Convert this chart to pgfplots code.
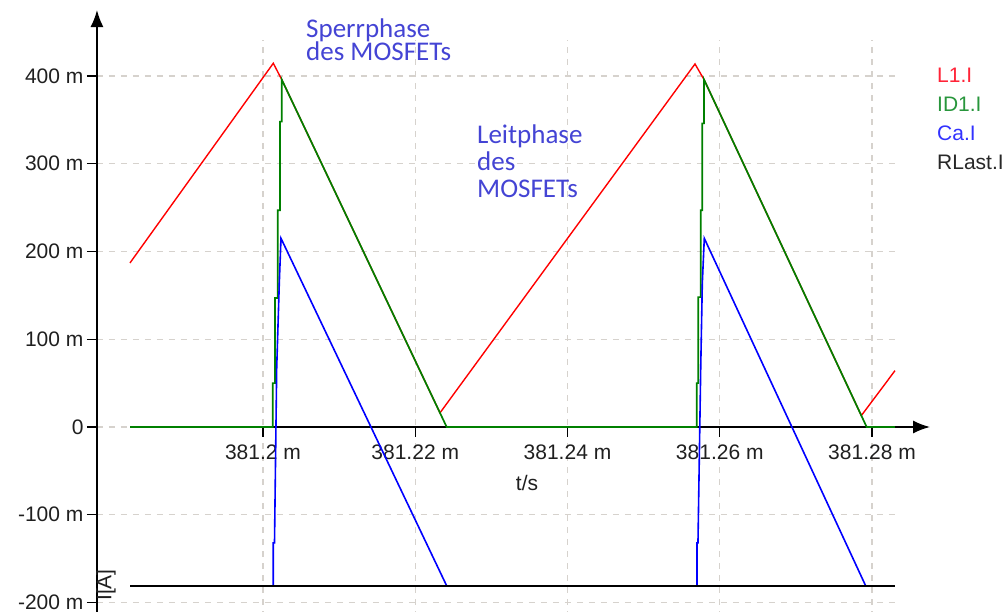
\documentclass[border=0pt]{standalone}
\usepackage{fontspec}
\setmainfont{Liberation Sans}
\newfontfamily\annfont{Carlito}
\usepackage{pgfplots}
\pgfplotsset{compat=1.18}
\usetikzlibrary{arrows.meta}
\definecolor{gridc}{RGB}{214,210,205}
\definecolor{cred}{RGB}{255,0,0}
\definecolor{cgreen}{RGB}{0,128,0}
\definecolor{cblue}{RGB}{0,0,255}
\definecolor{annblue}{RGB}{68,68,212}
\definecolor{legred}{RGB}{255,35,55}
\definecolor{leggreen}{RGB}{40,150,60}
\definecolor{legblue}{RGB}{50,50,255}
\definecolor{legblack}{RGB}{40,40,40}
\newcommand{\tf}{\fontsize{21}{24}\selectfont}
\newcommand{\af}{\annfont\fontsize{27}{27}\selectfont}
\begin{document}
\begin{tikzpicture}
\useasboundingbox (-263pt,-185pt) rectangle (745pt,427pt);
\begin{axis}[
  at={(-166.03pt,-189.54pt)}, anchor=south west,
  x=7.6125pt, y=0.8775pt,
  xmin=-21.81, xmax=83.02, ymin=-216, ymax=441,
  axis x line=middle, axis y line=left,
  axis line style={draw=none},
  hide obscured x ticks=false, hide obscured y ticks=false,
  clip=false,
  xtick={0,20,40,60,80},
  xticklabels={381.2 m,381.22 m,381.24 m,381.26 m,381.28 m},
  ytick={-200,-100,0,100,200,300,400},
  yticklabels={-200 m,-100 m,0,100 m,200 m,300 m,400 m},
  tick align=outside, major tick length=10pt,
  tick style={black, line width=1.2pt},
  grid=major,
  major grid style={gridc, dash pattern=on 6pt off 6pt, line width=1.3pt},
  ticklabel style={font=\tf, text=black!88},
  xticklabel style={yshift=-4pt},
]
% axis lines
\draw[line width=1.6pt, -{Latex[length=17pt,width=13pt]}] (axis cs:-21.81,-216) -- (axis cs:-21.81,475.2);
\draw[line width=1.6pt, -{Latex[length=17pt,width=13pt]}] (axis cs:-17.47,0) -- (axis cs:87.62,0);
% L1.I
\addplot[cred, line width=1.4pt] coordinates {
(-17.47,187) (1.353,414.5) (2.456,396) (23.25,16.1) (56.75,413.7) (57.93,396) (78.6,13) (83.02,64.2)
};
% ID1.I
\addplot[cgreen, line width=1.7pt] coordinates {
(-17.47,0) (1.274,0) (1.274,50) (1.576,50) (1.576,147) (1.931,147) (1.931,247) (2.233,247) (2.233,348) (2.456,348) (2.456,396)
(24.13,0) (56.97,0) (56.97,50) (57.18,50) (57.18,148) (57.50,148) (57.50,247) (57.71,247) (57.71,346) (57.93,346) (57.93,396)
(79.30,0) (83.02,0)
};
% Ca.I
\addplot[cblue, line width=1.6pt] coordinates {
(-17.47,-181) (1.353,-181) (1.353,-132) (1.511,-132) (1.800,67) (2.141,164) (2.364,215) (24.13,-181)
(57.01,-181) (57.01,-132) (57.14,-132) (57.50,67) (57.71,164) (57.97,215) (79.17,-181) (83.02,-181)
};
% RLast.I
\addplot[black, line width=1.6pt] coordinates {
(-17.47,-181) (83.02,-181)
};
% axis titles
\node[font=\tf, text=black!88] at (axis cs:34.68,-63.8) {t/s};
\node[font=\tf, text=black!88, rotate=90] at (axis cs:-20.62,-180) {I[A]};
% legend
\node[font=\tf, text=legred, anchor=west, inner sep=0pt] at (axis cs:88.54,401.1) {L1.I};
\node[font=\tf, text=leggreen, anchor=west, inner sep=0pt] at (axis cs:88.54,368.1) {ID1.I};
\node[font=\tf, text=legblue, anchor=west, inner sep=0pt] at (axis cs:88.54,335.0) {Ca.I};
\node[font=\tf, text=legblack, anchor=west, inner sep=0pt] at (axis cs:88.54,302.0) {RLast.I};
% annotations
\node[font=\af, text=annblue, anchor=base west, inner sep=0pt] at (axis cs:5.65,444.4) {Sperrphase};
\node[font=\af, text=annblue, anchor=base west, inner sep=0pt] at (axis cs:5.65,417.5) {des MOSFETs};
\node[font=\af, text=annblue, anchor=base west, inner sep=0pt] at (axis cs:28.11,323.6) {Leitphase};
\node[font=\af, text=annblue, anchor=base west, inner sep=0pt] at (axis cs:28.11,292.8) {des};
\node[font=\af, text=annblue, anchor=base west, inner sep=0pt] at (axis cs:28.11,262.0) {MOSFETs};
\end{axis}
\end{tikzpicture}
\end{document}
